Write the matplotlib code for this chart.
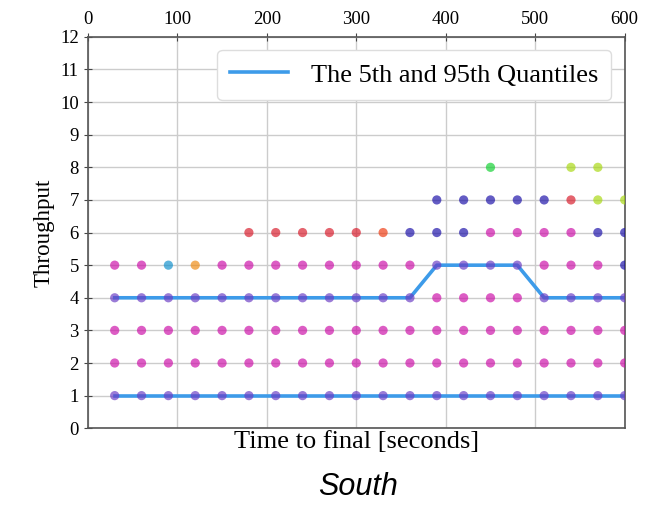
import numpy as np
import matplotlib.pyplot as plt

# time steps (seconds to final)
times = list(range(30, 601, 30))

# throughput levels observed at every step
always_levels = [1, 2, 3, 4, 5]

# extra (sparser) observations: (time, throughput, colour key)
extra_times = [180, 210, 240, 270, 300, 330, 360, 390, 420, 450, 480, 510, 540, 570, 600,
               390, 420, 450, 480, 510, 540, 570, 600,
               450, 540, 570]
extra_vals = [6] * 15 + [7] * 8 + [8] * 3
extra_keys = ["r", "r", "r", "r", "r", "o", "b", "b", "b", "m", "m", "m", "m", "b", "b",
              "b", "b", "b", "b", "b", "r", "y", "y",
              "g", "y", "y"]

# odd colours at throughput 5
odd5 = {90: "c", 120: "o2", 600: "b"}

# quantiles
q05 = [1] * 20
q95 = [4, 4, 4, 4, 4, 4, 4, 4, 4, 4, 4, 4, 5, 5, 5, 5, 4, 4, 4, 4]

palette = {"m": "#cc0fa8", "b": "#1a0fa8", "r": "#d81a2a", "o": "#ee3a10",
           "o2": "#ee8a10", "c": "#1090cc", "g": "#10d030", "y": "#a8d810",
           "p": "#6a3cc4"}

plt.rcParams['font.family'] = ['Liberation Serif', 'DejaVu Serif']

fig = plt.figure(figsize=(6.46, 5.05), dpi=100)
ax = fig.add_axes([0.136, 0.152, 0.831, 0.775])

ax.plot(times, q05, color="#3d9be9", lw=2.6, zorder=2, label="The 5th and 95th Quantiles")
ax.plot(times, q95, color="#3d9be9", lw=2.6, zorder=2)

q_lookup = {t: (a, b) for t, a, b in zip(times, q05, q95)}

px, py, pc = [], [], []
for lvl in always_levels:
    for t in times:
        key = "m"
        if lvl == 5 and t in odd5:
            key = odd5[t]
        # magenta dots sitting on a quantile line look purple
        if key == "m" and lvl in q_lookup[t]:
            key = "p"
        px.append(t)
        py.append(lvl)
        pc.append(palette[key])
for t, v, k in zip(extra_times, extra_vals, extra_keys):
    px.append(t)
    py.append(v)
    pc.append(palette[k])

ax.scatter(px, py, c=pc, s=44, alpha=0.68, linewidths=0, zorder=3)

ax.set_xlim(0, 600)
ax.set_ylim(0, 12)
ax.set_xticks(range(0, 601, 100))
ax.set_yticks(range(0, 13))
ax.xaxis.tick_top()
ax.tick_params(axis='both', labelsize=13.5, direction='inout', length=6, color='#444444')
ax.grid(True, color='#cccccc', lw=1)
ax.set_axisbelow(True)
for s in ax.spines.values():
    s.set_color('#555555')
    s.set_linewidth(1.2)

ax.set_xlabel("Time to final [seconds]", fontsize=19, labelpad=2)
ax.set_ylabel("Throughput", fontsize=16.5)

ax.legend(loc='upper right', fontsize=19, handlelength=2.2, handletextpad=0.85,
          borderpad=0.5, fancybox=True, framealpha=1, edgecolor='#dddddd')

fig.text(0.555, 0.02, "South", fontsize=22, style='italic', family='Liberation Sans', ha='center')

plt.savefig("out.png")
